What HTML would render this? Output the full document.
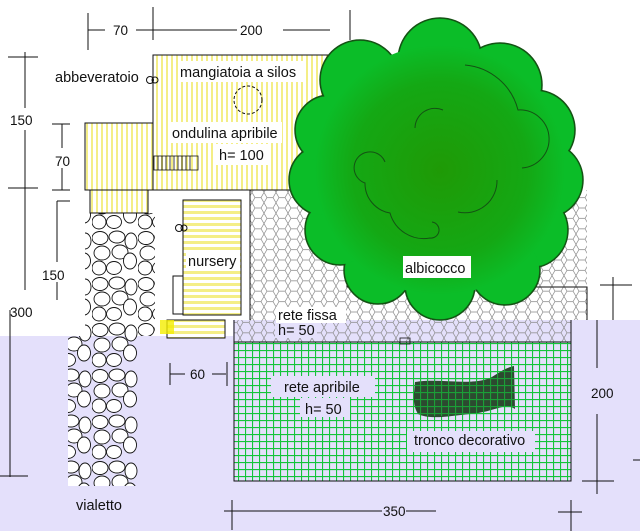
<!DOCTYPE html>
<html><head><meta charset="utf-8"><style>
html,body{margin:0;padding:0;background:#fff;}
svg{display:block;font-family:"Liberation Sans","DejaVu Sans",sans-serif;}
text{font-size:13.5px;fill:#111;}
text.l{font-size:14.5px;}
</style></head><body>
<svg width="640" height="531" viewBox="0 0 640 531" xmlns="http://www.w3.org/2000/svg">
<defs>
<pattern id="vs" width="5" height="10" patternUnits="userSpaceOnUse"><rect width="5" height="10" fill="#fff"/><rect x="1" width="2" height="10" fill="#f4ee86"/></pattern>
<pattern id="hs" width="10" height="6" patternUnits="userSpaceOnUse"><rect width="10" height="6" fill="#fff"/><rect y="1" width="10" height="3" fill="#f4ee86"/></pattern>
<pattern id="hx" width="12" height="10.4" patternUnits="userSpaceOnUse"><path d="M0,5.2 L3,0 L9,0 L12,5.2 L9,10.4 L3,10.4 Z" fill="none" stroke="#888" stroke-width="0.7"/></pattern>
<pattern id="gr" width="7" height="7" patternUnits="userSpaceOnUse"><path d="M0.5,0 V7 M0,0.5 H7" stroke="#14c43a" stroke-width="1.2"/></pattern>
<pattern id="cb" width="46" height="46" patternUnits="userSpaceOnUse">
<g fill="#fff" stroke="#111" stroke-width="0.9">
<ellipse cx="8" cy="8" rx="8" ry="6.5"/><ellipse cx="25" cy="7" rx="8" ry="6"/><ellipse cx="39" cy="11" rx="6" ry="8"/>
<ellipse cx="10" cy="23" rx="8" ry="7"/><ellipse cx="28" cy="22" rx="8" ry="7"/>
<ellipse cx="7" cy="38" rx="7" ry="7"/><ellipse cx="22" cy="38" rx="7.5" ry="6.5"/><ellipse cx="38" cy="31" rx="6.5" ry="8"/>
</g></pattern>
<radialGradient id="tg" cx="0.5" cy="0.5" r="0.5">
<stop offset="0" stop-color="#1f9a06"/><stop offset="0.7" stop-color="#14a814"/><stop offset="1" stop-color="#0bbd28"/>
</radialGradient>
</defs>
<rect x="0" y="336" width="640" height="195" fill="#e4e0fb"/>
<rect x="233" y="320" width="407" height="16" fill="#e4e0fb"/>

<rect x="250" y="190" width="337" height="130" fill="url(#hx)"/>
<rect x="234" y="320" width="337" height="22" fill="url(#hx)"/>
<line x1="250" y1="190" x2="250" y2="320" stroke="#111"/>
<polyline points="347,275 347,287 587,287 587,320" fill="none" stroke="#111"/>
<rect x="234" y="342" width="337" height="139" fill="url(#gr)" stroke="#111"/>
<line x1="234" y1="320" x2="234" y2="342" stroke="#111"/>
<line x1="571" y1="320" x2="571" y2="342" stroke="#111"/>
<rect x="400" y="338" width="10" height="6" fill="none" stroke="#111" stroke-width="0.8"/>
<path d="M415,382 C440,378 470,386 490,378 C500,372 505,368 514,366 L515,409 C505,402 495,412 470,414 C450,416 430,420 418,414 C412,404 414,395 415,382Z" fill="#2c4a30"/>
<rect x="415" y="366" width="100" height="50" fill="url(#gr)" opacity="0.7"/>

<rect x="85" y="213" width="70" height="123" fill="url(#cb)"/>
<rect x="68" y="336" width="70" height="150" fill="url(#cb)"/>

<rect x="153" y="55" width="180" height="135" fill="url(#vs)" stroke="#111"/>
<rect x="85" y="123" width="68" height="67" fill="url(#vs)" stroke="#111"/>
<rect x="90" y="190" width="58" height="23" fill="url(#vs)" stroke="#111"/>
<circle cx="248" cy="100" r="14" fill="none" stroke="#111" stroke-dasharray="3,2"/>
<rect x="154" y="156" width="44" height="14" fill="none" stroke="#111" stroke-width="0.8"/>
<path d="M158,156v14M162,156v14M166,156v14M170,156v14M174,156v14M178,156v14M182,156v14M186,156v14M190,156v14" stroke="#111" stroke-width="0.8"/>
<circle cx="150" cy="80" r="3.5" fill="none" stroke="#111"/><circle cx="155" cy="80" r="3" fill="none" stroke="#111"/>
<rect x="183" y="200" width="58" height="115" fill="url(#hs)" stroke="#111"/>
<rect x="173" y="276" width="10" height="38" fill="#fff" stroke="#111"/>
<circle cx="179" cy="228" r="3.5" fill="none" stroke="#111"/><circle cx="184" cy="228" r="3" fill="none" stroke="#111"/>
<rect x="167" y="320" width="58" height="18" fill="url(#hs)" stroke="#111"/>
<rect x="160" y="320" width="14" height="14" fill="#f4ee00" opacity="0.8"/>

<g fill="#0aa620" stroke="#145214" stroke-width="1.5">
<circle cx="440" cy="60" r="42"/><circle cx="500" cy="85" r="42"/><circle cx="535" cy="130" r="40"/><circle cx="545" cy="180" r="38"/>
<circle cx="530" cy="230" r="38"/><circle cx="505" cy="270" r="35"/><circle cx="440" cy="285" r="35"/><circle cx="378" cy="270" r="34"/>
<circle cx="340" cy="230" r="35"/><circle cx="325" cy="180" r="36"/><circle cx="330" cy="130" r="35"/><circle cx="360" cy="80" r="40"/>
</g>
<g fill="#0bbd28">
<circle cx="440" cy="60" r="41"/><circle cx="500" cy="85" r="41"/><circle cx="535" cy="130" r="39"/><circle cx="545" cy="180" r="37"/>
<circle cx="530" cy="230" r="37"/><circle cx="505" cy="270" r="34"/><circle cx="440" cy="285" r="34"/><circle cx="378" cy="270" r="33"/>
<circle cx="340" cy="230" r="34"/><circle cx="325" cy="180" r="35"/><circle cx="330" cy="130" r="34"/><circle cx="360" cy="80" r="39"/>
</g>
<circle cx="440" cy="170" r="125" fill="url(#tg)"/>
<g fill="none" stroke="#145214" stroke-width="1">
<path d="M465,65 A60,60 0 0 1 518,110 A25,25 0 0 1 522,168"/>
<path d="M415,128 A20,20 0 0 1 443,110"/>
<path d="M385,162 A16,16 0 1 0 365,183 A30,30 0 0 0 390,213 A35,35 0 0 0 430,238 A8,8 0 0 0 432,222"/>
<path d="M497,180 A32,32 0 0 1 458,212"/>
</g>

<g fill="#fff">
<rect x="178" y="61" width="126" height="21"/><rect x="170" y="122" width="112" height="21"/><rect x="213" y="144" width="56" height="21"/>
<rect x="186" y="250" width="54" height="21"/><rect x="403" y="256" width="68" height="22"/>
<rect x="276" y="307" width="70" height="16"/>
</g>
<g fill="#e4e0fb"><rect x="275" y="323" width="42" height="15"/><rect x="271" y="376" width="104" height="21"/><rect x="300" y="398" width="50" height="19"/><rect x="407" y="431" width="128" height="21"/></g>
<text class="l" x="180" y="77">mangiatoia a silos</text>
<text class="l" x="172" y="138">ondulina apribile</text>
<text class="l" x="219" y="160">h= 100</text>
<text class="l" x="55" y="82">abbeveratoio</text>
<text class="l" x="188" y="266">nursery</text>
<text class="l" x="405" y="273">albicocco</text>
<text class="l" x="278" y="320">rete fissa</text>
<text class="l" x="278" y="335">h= 50</text>
<text class="l" x="284" y="392">rete apribile</text>
<text class="l" x="305" y="414">h= 50</text>
<text class="l" x="414" y="445">tronco decorativo</text>
<text class="l" x="76" y="510">vialetto</text>

<g stroke="#111" stroke-width="1">
<path d="M88,13V50M88,30H105M136,30H237M153,7V40M283,30H330M350,10V40"/>
<path d="M8,57H38M25,52V108M25,130V290M8,188H38"/>
<path d="M52,124H70M62,124V148M62,168V190M52,190H70"/>
<path d="M57,201H70M57,201V262M57,282V300"/>
<path d="M10,310V477M0,476H28"/>
<path d="M170,363V385M170,374H185M212,374H226M227,362V386"/>
<path d="M224,511H382M406,511H436M232,500V530M571,500V531"/>
<path d="M597,320V368M597,414V494M582,481H614"/>
<path d="M613,277V320M600,285H632M633,460H640"/>
<path d="M558,512H582"/>
</g>
<text x="113" y="35">70</text>
<text x="240" y="35">200</text>
<text x="10" y="125">150</text>
<text x="55" y="166">70</text>
<text x="42" y="280">150</text>
<text x="10" y="317">300</text>
<text x="190" y="379">60</text>
<text x="591" y="398">200</text>
<text x="383" y="516">350</text>
</svg>
</body></html>
